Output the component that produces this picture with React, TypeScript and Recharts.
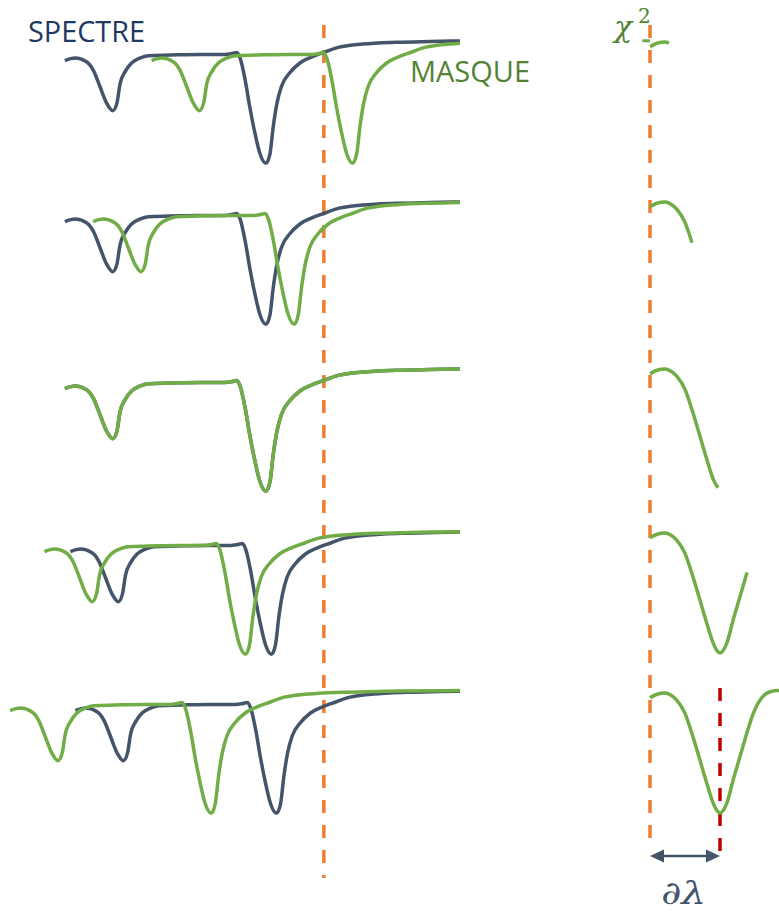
import { Line, LineChart, ReferenceLine, XAxis, YAxis } from "recharts";

// profil du spectre (rangée du haut) : longueur d'onde (u.a.) et flux normalisé
const PROFIL_LAMBDA = [14.1, 16.3, 18.8, 20.3, 21.7, 23.2, 24.5, 25.4, 26.1, 27.2, 28.6, 30.4, 32.2, 37.0, 43.5, 48.9, 50.2, 51.5, 52.2, 53.3, 54.3, 55.4, 56.5, 57.8, 58.7, 59.4, 60.2, 61.2, 63.0, 65.2, 67.8, 70.7, 72.8, 78.9, 86.3, 93.5, 100, 108.7, 117.4];
const PROFIL_FLUX = [0.84, 0.86, 0.83, 0.76, 0.63, 0.49, 0.43, 0.49, 0.65, 0.75, 0.82, 0.86, 0.88, 0.885, 0.89, 0.89, 0.895, 0.905, 0.86, 0.68, 0.46, 0.25, 0.08, 0, 0.08, 0.3, 0.49, 0.63, 0.74, 0.82, 0.87, 0.91, 0.94, 0.975, 0.99, 0.996, 1, 1.003, 1.005];

// décalage en longueur d'onde de chaque rangée
const DECALAGE_SPECTRE = [0, 0, 0, 1.2, 2.3];
const DECALAGE_MASQUE = [18.85, 6.15, 0, -4.45, -11.9];

// chi2 en fonction du décalage
const CHI2_D = [0, 0.5, 1.07, 1.36, 1.91, 2.5, 3.0, 3.57, 4.05, 4.52, 4.86, 5.0, 5.48, 5.95, 6.43, 6.93, 7.38, 7.98, 8.57, 9.16, 9.71];
const CHI2_VAL = [0.96, 0.99, 1.0, 0.99, 0.94, 0.83, 0.66, 0.44, 0.25, 0.08, 0.01, 0, 0.08, 0.28, 0.47, 0.67, 0.83, 0.96, 1.01, 1.02, 1.02];
const CHI2_FIN = [1.36, 3.0, 4.86, 6.93, 9.71];

const LAMBDA_REF = 70.4;

// mise en page
const H = 913;
const RANG_Y = [41, 202, 369, 532, 691];
const PX_FLUX = 122.3;
const CHI_Y = [42, 202, 369, 533, 693];
const PX_CHI = 120;

const SPECTRE = "#44546A";
const MASQUE = "#70AD47";
const ORANGE = "#ED7D31";
const ROUGE = "#C00000";

const domaine = (y: number, k: number) => [1 - (H - y) / k, 1 + y / k];

const decale = (s: number) => PROFIL_LAMBDA.map((l, i) => ({ x: l + s, f: PROFIL_FLUX[i] }));

const chi2 = CHI2_D.map((d, i) => ({ d, v: CHI2_VAL[i] }));
const dMin = CHI2_D[CHI2_VAL.indexOf(Math.min(...CHI2_VAL))];

const Fleche = (props: any) => {
	const { x1, y1, x2 } = props;
	return (
		<g>
			<line x1={x1 + 12} y1={y1} x2={x2 - 12} y2={y1} stroke={SPECTRE} strokeWidth={2.5} />
			<polygon points={`${x1},${y1} ${x1 + 14},${y1 - 6.5} ${x1 + 14},${y1 + 6.5}`} fill={SPECTRE} />
			<polygon points={`${x2},${y1} ${x2 - 14},${y1 - 6.5} ${x2 - 14},${y1 + 6.5}`} fill={SPECTRE} />
		</g>
	);
};

const App = () => {
	return (
		<div style={{ position: "absolute", left: 0, top: 0, width: 779, height: H, overflow: "hidden", background: "#fff" }}>
			<div style={{ position: "absolute", left: 0, top: 0 }}>
				<LineChart width={460} height={H} margin={{ top: 0, right: 0, bottom: 0, left: 0 }}>
					<XAxis type="number" dataKey="x" domain={[0, 100]} hide allowDataOverflow />
					<YAxis yAxisId="cadre" type="number" domain={[0, H]} reversed hide allowDataOverflow />
					{RANG_Y.map((y, i) => (
						<YAxis key={i} yAxisId={`r${i}`} type="number" domain={domaine(y, PX_FLUX)} hide allowDataOverflow />
					))}
					<ReferenceLine
						yAxisId="cadre"
						segment={[{ x: LAMBDA_REF, y: 25 }, { x: LAMBDA_REF, y: 878 }]}
						stroke={ORANGE}
						strokeWidth={3.5}
						strokeDasharray="13 12"
					/>
					{RANG_Y.map((_, i) => (
						<Line key={`s${i}`} yAxisId={`r${i}`} data={decale(DECALAGE_SPECTRE[i])} dataKey="f" type="monotone"
							stroke={SPECTRE} strokeWidth={3.5} dot={false} activeDot={false} isAnimationActive={false} />
					))}
					{RANG_Y.map((_, i) => (
						<Line key={`m${i}`} yAxisId={`r${i}`} data={decale(DECALAGE_MASQUE[i])} dataKey="f" type="monotone"
							stroke={MASQUE} strokeWidth={3.5} dot={false} activeDot={false} isAnimationActive={false} />
					))}
				</LineChart>
			</div>
			<div style={{ position: "absolute", left: 622, top: 0 }}>
				<LineChart width={168} height={H} margin={{ top: 0, right: 0, bottom: 0, left: 0 }}>
					<XAxis type="number" dataKey="d" domain={[-2, 10]} hide allowDataOverflow />
					<YAxis yAxisId="cadre" type="number" domain={[0, H]} reversed hide allowDataOverflow />
					{CHI_Y.map((y, i) => (
						<YAxis key={i} yAxisId={`c${i}`} type="number" domain={domaine(y, PX_CHI)} hide allowDataOverflow />
					))}
					<ReferenceLine
						yAxisId="cadre"
						segment={[{ x: 0, y: 25 }, { x: 0, y: 850 }]}
						stroke={ORANGE}
						strokeWidth={3.5}
						strokeDasharray="13 12"
					/>
					<ReferenceLine
						yAxisId="cadre"
						segment={[{ x: dMin, y: 688 }, { x: dMin, y: 855 }]}
						stroke={ROUGE}
						strokeWidth={3.5}
						strokeDasharray="13 12"
					/>
					<ReferenceLine
						yAxisId="cadre"
						segment={[{ x: 0, y: 856 }, { x: dMin, y: 856 }]}
						shape={Fleche}
					/>
					<ReferenceLine
						yAxisId="c0"
						segment={[{ x: -0.55, y: 1.01 }, { x: 0, y: 1.01 }]}
						stroke={MASQUE}
						strokeWidth={3}
					/>
					{CHI2_FIN.map((fin, i) => (
						<Line key={i} yAxisId={`c${i}`} data={chi2.filter((p) => p.d <= fin)} dataKey="v" type="monotone"
							stroke={MASQUE} strokeWidth={3.5} dot={false} activeDot={false} isAnimationActive={false} />
					))}
				</LineChart>
			</div>
			<svg width={779} height={H} style={{ position: "absolute", left: 0, top: 0, pointerEvents: "none" }}>
				<text x={28} y={42} fontFamily="Open Sans" fontSize={30} fill="#203864" textLength={117} lengthAdjust="spacingAndGlyphs">SPECTRE</text>
				<text x={410} y={82} fontFamily="Open Sans" fontSize={30} fill="#548235" textLength={120} lengthAdjust="spacingAndGlyphs">MASQUE</text>
				<text x={614} y={37} fontFamily="DejaVu Serif" fontStyle="italic" fontSize={30} fill="#548235">χ</text>
				<text x={638} y={23} fontFamily="DejaVu Serif" fontSize={20} fill="#548235">2</text>
				<text x={661} y={904} fontFamily="DejaVu Serif" fontStyle="italic" fontSize={32} fill={SPECTRE} textLength={45} lengthAdjust="spacingAndGlyphs">∂λ</text>
			</svg>
		</div>
	);
};

export default App;
